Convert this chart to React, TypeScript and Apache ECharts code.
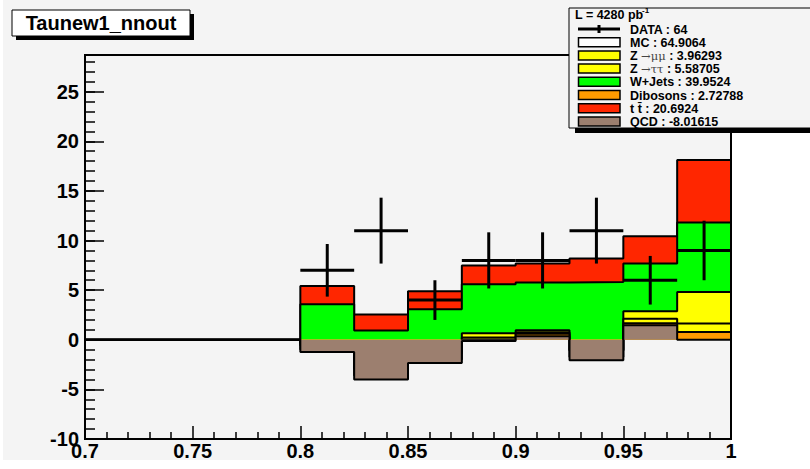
import React, { useEffect, useRef } from "react";
import * as echarts from "echarts";

// ---- data ----
const binLow = [0.8, 0.825, 0.85, 0.875, 0.9, 0.925, 0.95, 0.975];
const binWidth = 0.025;
const xMin = 0.7;
const xMax = 1.0;
const yMin = -10;
const yMax = 28.7;

// per-process contributions (stack order bottom -> top)
const qcd = [-1.23, -4.01, -2.34, -0.12, 0.35, -2.07, 1.46, 0.0];
const dibosons = [0.25, 0.4, 0.35, 0.15, 0.25, 0.34, 0.2, 0.79];
const zmumu = [0.4, 0.7, 0.6, 0.2, 0.15, 0.62, 0.45, 0.84];
const ztautau = [0.25, 0.4, 0.25, 0.42, 0.21, 0.11, 0.76, 3.19];
const wjets = [3.91, 3.44, 4.21, 4.95, 4.81, 6.83, 4.81, 7.01];
const ttbar = [1.84, 1.61, 1.82, 1.88, 1.92, 2.36, 2.75, 6.28];

const dataCounts = [7, 11, 4, 8, 8, 11, 6, 9];
const dataErrors = [2.65, 3.32, 2.0, 2.83, 2.83, 3.32, 2.45, 3.0];

const processNames = ["QCD", "Dibosons", "Z→μμ", "Z→ττ", "W+Jets", "tt̄"];
const processColors = ["#9c7f6f", "#ff9a00", "#ffff00", "#ffff00", "#00ff00", "#ff2600"];

const legendLumi = "L = 4280 pb";
const legendRows = [
  { kind: "data", text: "{b|DATA : 64}" },
  { kind: "box", color: "#ffffff", text: "{b|MC : 64.9064}" },
  { kind: "box", color: "#ffff00", text: "{b|Z }{s|→μμ}{b| : 3.96293}" },
  { kind: "box", color: "#ffff00", text: "{b|Z }{s|→ττ}{b| : 5.58705}" },
  { kind: "box", color: "#00ff00", text: "{b|W+Jets : 39.9524}" },
  { kind: "box", color: "#ff9a00", text: "{b|Dibosons : 2.72788}" },
  { kind: "box", color: "#ff2600", text: "{b|t t\u0304 : 20.6924}" },
  { kind: "box", color: "#9c7f6f", text: "{b|QCD : -8.01615}" },
];

const titleText = "Taunew1_nnout";

const FONT = "'Liberation Sans', Arial, Helvetica, sans-serif";

function buildOption() {
  const stack = [qcd, dibosons, zmumu, ztautau, wjets, ttbar];
  const cumul: number[][] = [];
  stack.forEach((arr, k) => {
    cumul.push(arr.map((v, i) => (k === 0 ? v : cumul[k - 1][i] + v)));
  });

  const histSeries: any[] = [];
  // draw the top of the stack first, QCD last
  for (let k = stack.length - 1; k >= 0; k--) {
    const lv = cumul[k];
    const pts: number[][] = [[xMin, 0]];
    binLow.forEach((x, i) => pts.push([x, lv[i]]));
    pts.push([xMax, lv[lv.length - 1]]);
    pts.push([xMax, 0]);
    histSeries.push({
      type: "line",
      name: processNames[k],
      step: "end",
      data: pts,
      showSymbol: false,
      symbol: "none",
      z: 2 + (stack.length - 1 - k),
      lineStyle: { color: "#000", width: 2 },
      areaStyle: { color: processColors[k], opacity: 1, origin: 0 },
      silent: true,
    });
  }

  const dataSeries = {
    type: "custom",
    name: "DATA",
    z: 20,
    dimensions: ["x", "y", "hw", "err"],
    encode: { x: 0, y: 1 },
    data: binLow.map((x, i) => [x + binWidth / 2, dataCounts[i], binWidth / 2, dataErrors[i]]),
    renderItem: (params: any, api: any) => {
      const x = api.value(0);
      const y = api.value(1);
      const hw = api.value(2);
      const e = api.value(3);
      const l = api.coord([x - hw, y]);
      const r = api.coord([x + hw, y]);
      const t = api.coord([x, y + e]);
      const b = api.coord([x, y - e]);
      const st = { stroke: "#000", lineWidth: 3 };
      return {
        type: "group",
        children: [
          { type: "line", shape: { x1: l[0], y1: l[1], x2: r[0], y2: r[1] }, style: st },
          { type: "line", shape: { x1: t[0], y1: t[1], x2: b[0], y2: b[1] }, style: st },
        ],
      };
    },
  };

  const tickLabel = {
    color: "#000",
    fontWeight: "bold",
    fontFamily: FONT,
  };

  // legend graphics
  const lx = 569;
  const ly = 8;
  const legendChildren: any[] = [
    { type: "rect", shape: { x: lx + 6, y: ly + 120, width: 260, height: 5 }, style: { fill: "#000" } },
    { type: "rect", shape: { x: lx, y: ly, width: 260, height: 120 }, style: { fill: "#f4f4f4", stroke: "#000", lineWidth: 1 } },
    {
      type: "text",
      x: lx + 6,
      y: 15,
      style: { text: legendLumi, font: `bold 12.5px ${FONT}`, fill: "#000", verticalAlign: "middle", align: "left", lineHeight: 12 },
    },
    {
      type: "text",
      x: lx + 73,
      y: 10,
      style: { text: "-1", font: `bold 8px ${FONT}`, fill: "#000", verticalAlign: "middle", align: "left" },
    },
  ];
  const rowY0 = 29;
  const rowStep = 13.2;
  legendRows.forEach((row, i) => {
    const cy = rowY0 + i * rowStep;
    if (row.kind === "data") {
      legendChildren.push({ type: "line", shape: { x1: 578, y1: cy, x2: 620, y2: cy }, style: { stroke: "#000", lineWidth: 3 } });
      legendChildren.push({ type: "line", shape: { x1: 599, y1: cy - 4, x2: 599, y2: cy + 4 }, style: { stroke: "#000", lineWidth: 3 } });
    } else {
      legendChildren.push({
        type: "rect",
        shape: { x: 578.5, y: cy - 4.5, width: 41.5, height: 9 },
        style: { fill: row.color, stroke: "#000", lineWidth: 1.5 },
      });
    }
    legendChildren.push({
      type: "text",
      x: 630,
      y: cy + 0.5,
      style: {
        text: row.text,
        verticalAlign: "middle",
        align: "left",
        rich: {
          b: { fontFamily: FONT, fontWeight: "bold", fontSize: 12.5, lineHeight: 12, fill: "#000", color: "#000" },
          s: { fontFamily: "'DejaVu Serif', serif", fontWeight: "normal", fontSize: 11.5, lineHeight: 12, fill: "#444", color: "#444" },
        },
      },
    });
  });

  const graphic: any[] = [
    // white margins outside the pad
    { type: "rect", z: -1, shape: { x: 731, y: 133, width: 79, height: 336 }, style: { fill: "#ffffff" } },
    { type: "rect", z: -1, shape: { x: 0, y: 460, width: 810, height: 9 }, style: { fill: "#ffffff" } },
    { type: "rect", z: -1, shape: { x: 0, y: 0, width: 3, height: 469 }, style: { fill: "#ffffff" } },
    // title box
    {
      type: "group",
      z: 100,
      children: [
        { type: "rect", shape: { x: 16, y: 14, width: 178, height: 26 }, style: { fill: "#000" } },
        { type: "rect", shape: { x: 12, y: 10, width: 178, height: 26 }, style: { fill: "#ffffff", stroke: "#000", lineWidth: 1 } },
        {
          type: "text",
          x: 101,
          y: 23,
          style: { text: titleText, font: `bold 20px ${FONT}`, fill: "#000", align: "center", verticalAlign: "middle" },
        },
      ],
    },
    { type: "group", z: 100, children: legendChildren },
  ];

  return {
    animation: false,
    backgroundColor: "#f4f4f4",
    grid: {
      left: 85,
      top: 55,
      width: 646,
      height: 384,
      show: true,
      backgroundColor: "#f4f4f4",
      borderColor: "#000",
      borderWidth: 2,
      containLabel: false,
    },
    xAxis: {
      type: "value",
      min: xMin,
      max: xMax,
      interval: 0.05,
      axisLine: { show: true, onZero: false, lineStyle: { color: "#000", width: 2 } },
      axisTick: { show: true, inside: true, length: 13, lineStyle: { color: "#000", width: 1.5 } },
      minorTick: { show: true, splitNumber: 5, length: 7, lineStyle: { color: "#000", width: 1.5 } },
      splitLine: { show: false },
      minorSplitLine: { show: false },
      axisLabel: {
        ...tickLabel,
        fontSize: 20,
        margin: 2,
        formatter: (v: number) => String(+v.toFixed(2)),
      },
    },
    yAxis: [
      {
        type: "value",
        min: yMin,
        max: yMax,
        interval: 5,
        axisLine: { show: true, onZero: false, lineStyle: { color: "#000", width: 2 } },
        axisTick: { show: true, inside: true, length: 19, lineStyle: { color: "#000", width: 1.5 } },
        splitLine: { show: false },
        axisLabel: { ...tickLabel, fontSize: 20, margin: 6, showMaxLabel: false },
      },
      {
        type: "value",
        min: yMin,
        max: yMax,
        interval: 1,
        position: "left",
        axisLine: { show: false },
        axisTick: { show: true, inside: true, length: 10, lineStyle: { color: "#000", width: 1.5 } },
        splitLine: { show: false },
        axisLabel: { show: false },
      },
    ],
    series: [...histSeries, dataSeries],
    graphic,
  };
}

export default function App() {
  const ref = useRef<HTMLDivElement>(null);
  useEffect(() => {
    document.body.style.margin = "0";
    if (!ref.current) return;
    const chart = echarts.init(ref.current, undefined, { renderer: "svg" });
    chart.setOption(buildOption() as any);
    return () => {
      chart.dispose();
    };
  }, []);
  return <div ref={ref} style={{ width: 810, height: 469 }} />;
}
